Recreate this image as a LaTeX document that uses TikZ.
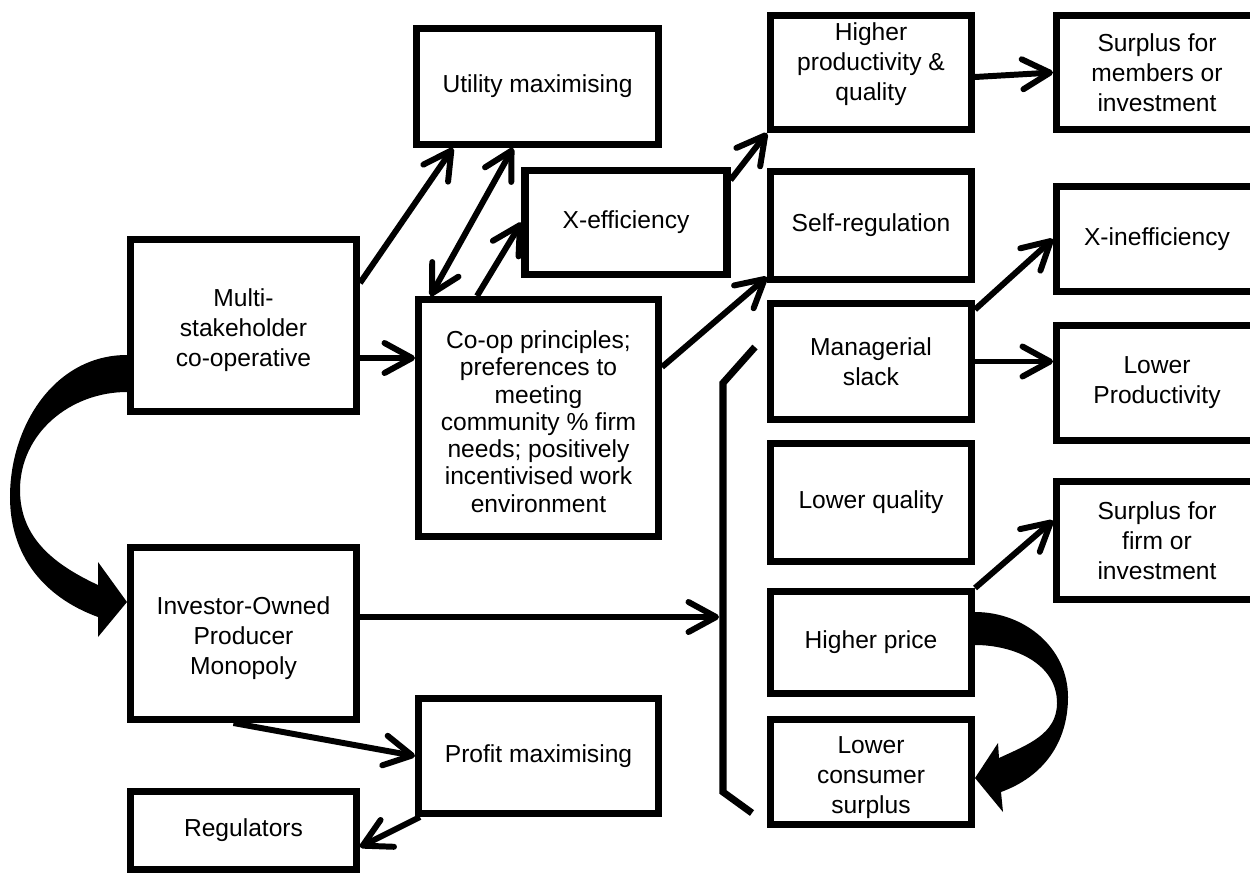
\documentclass[tikz,border=0pt]{standalone}
\usepackage{fontspec}
\setmainfont{Liberation Sans}
\usetikzlibrary{arrows.meta,positioning,calc}
\newcommand{\boxfont}{\fontsize{14}{17}\selectfont}
\newcommand{\liftedtext}[2]{\raisebox{#1}[0pt][0pt]{\begin{tabular}{@{}c@{}}#2\end{tabular}}}

\begin{document}
\begin{tikzpicture}[
	blk/.style={draw,line width=4pt,align=center,font=\boxfont,inner sep=2pt},
	lnk/.style={line width=3.4pt,-{Straight Barb[length=5.5mm,width=6mm,round]}},
	twoway/.style={line width=3.4pt,{Straight Barb[length=5.5mm,width=6mm,round]}-{Straight Barb[length=5.5mm,width=6mm,round]}}]
	\useasboundingbox (0,0) rectangle (25,-17.46);
	\clip (0,0) rectangle (25,-17.46);
		\node[blk,minimum width=4.52cm,minimum height=3.44cm] (multi) at (4.87,-6.51) {\rule{0pt}{0.55cm}Multi-\\stakeholder\\co-operative};
		\node[blk,minimum width=4.52cm,minimum height=3.44cm] (investor) at (4.87,-12.67) {\rule{0pt}{0.55cm}Investor-Owned\\Producer\\Monopoly};
		\node[blk,minimum width=4.52cm,minimum height=1.56cm] (regul) at (4.87,-16.61) {Regulators};
		\node[blk,minimum width=4.84cm,minimum height=2.32cm] (utility) at (10.75,-1.73) {Utility maximising};
		\node[blk,minimum width=4.04cm,minimum height=2.08cm] (xeff) at (12.52,-4.45) {X-efficiency};
		\node[blk,minimum width=4.80cm,minimum height=4.74cm,font=\fontsize{14}{15.5}\selectfont] (coop) at (10.77,-8.36) {\rule{0pt}{0.5cm}Co-op principles;\\preferences to\\meeting\\community \% firm\\needs; positively\\incentivised work\\environment};
		\node[blk,minimum width=4.80cm,minimum height=2.30cm] (profit) at (10.77,-15.12) {Profit maximising};
		\node[blk,minimum width=4.02cm,minimum height=2.28cm] (higher) at (17.42,-1.45) {\liftedtext{0.04cm}{Higher\\productivity \&\\quality}};
		\node[blk,minimum width=4.02cm,minimum height=2.16cm] (selfreg) at (17.42,-4.51) {Self-regulation};
		\node[blk,minimum width=4.02cm,minimum height=2.32cm] (slack) at (17.42,-7.23) {Managerial\\slack};
		\node[blk,minimum width=4.02cm,minimum height=2.36cm] (lowqual) at (17.42,-10.05) {Lower quality};
		\node[blk,minimum width=4.02cm,minimum height=2.04cm] (price) at (17.42,-12.85) {Higher price};
		\node[blk,minimum width=4.02cm,minimum height=2.10cm] (lcs) at (17.42,-15.44) {\liftedtext{-0.24cm}{Lower\\consumer\\surplus}};
		\node[blk,minimum width=4.02cm,minimum height=2.28cm] (surpmem) at (23.14,-1.45) {Surplus for\\members or\\investment};
		\node[blk,minimum width=4.02cm,minimum height=2.10cm] (xineff) at (23.14,-4.78) {X-inefficiency};
		\node[blk,minimum width=4.02cm,minimum height=2.30cm] (lowprod) at (23.14,-7.66) {Lower\\Productivity};
		\node[blk,minimum width=4.02cm,minimum height=2.36cm] (surpfirm) at (23.14,-10.81) {Surplus for\\firm or\\investment};
		\draw[line width=4pt] (15.10,-6.94) -- (14.46,-7.66) -- (14.46,-15.84) -- (15.04,-16.26);
		\coordinate (brk) at (14.38,-12.34);
		\draw[lnk] ([yshift=0.85cm]multi.east) -- ([xshift=-1.69cm]utility.south);
		\draw[lnk] ([yshift=-0.65cm]multi.east) -- ([yshift=-0.65cm]multi.east -| coop.west);
		\draw[twoway] ([xshift=-2.16cm]coop.north) -- ([xshift=-0.49cm]utility.south);
		\draw[lnk] ([xshift=-1.23cm]coop.north) -- (xeff.west);
		\draw[lnk] ([yshift=0.85cm]xeff.east) -- (higher.south west);
		\draw[lnk] ([yshift=1.02cm]coop.east) -- ([yshift=-1.03cm]selfreg.west);
		\draw[lnk] ([yshift=-0.09cm]higher.east) -- (surpmem.west);
		\draw[lnk] ([yshift=1.04cm]slack.east) -- (xineff.west);
		\draw[lnk] (slack.east) -- (slack.east -| lowprod.west);
		\draw[lnk] (price.north east) -- ([yshift=0.4cm]surpfirm.west);
		\draw[lnk] ([yshift=0.33cm]investor.east) -- (brk);
		\draw[lnk] ([xshift=-0.2cm]investor.south) -- (profit.west);
		\draw[lnk] ([xshift=0.1cm]profit.south west) -- ([yshift=-0.33cm]regul.east);
		\fill ([yshift=-0.59cm]multi.west) to[out=180,in=90] (0.20,-9.94) to[out=-90,in=160] (1.96,-12.34) -- (1.96,-12.74) -- ([yshift=0.63cm]investor.west) -- (1.96,-11.24) -- (1.96,-11.70) to[out=155,in=-90] (0.40,-9.80) to[out=90,in=180] ([yshift=-1.33cm]multi.west) -- cycle;
		\fill ([yshift=0.61cm]price.east) to[out=0,in=90] (21.36,-13.94) to[out=-90,in=20] (20.02,-15.84) -- (20.06,-16.24) -- ([yshift=-0.12cm]lcs.east) -- (19.96,-14.86) -- (19.98,-15.16) to[out=25,in=-90] (21.14,-14.06) to[out=90,in=0] ([yshift=-0.05cm]price.east) -- cycle;
\end{tikzpicture}
\end{document}
